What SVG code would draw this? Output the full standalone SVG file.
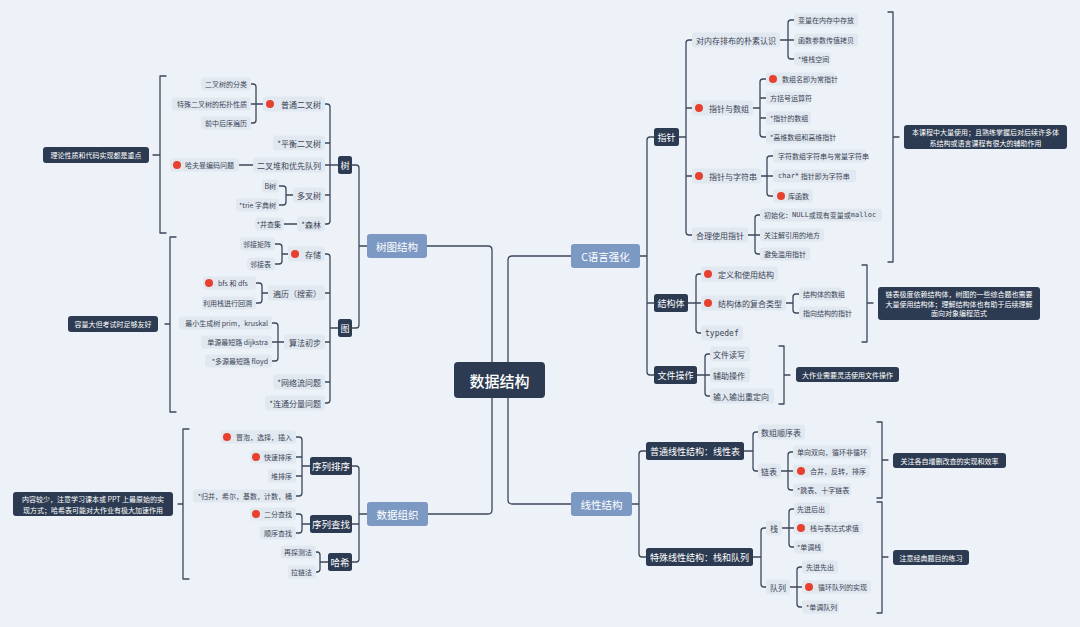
<svg xmlns="http://www.w3.org/2000/svg" width="1080" height="627" viewBox="0 0 1080 627">
<style>
.lb{fill:#E2E8F0}
.t{font-family:"Noto Sans CJK SC","Noto Sans",sans-serif;fill:#3A4556;dominant-baseline:central}
.e{text-anchor:end}
.mid{text-anchor:middle}
.s7{font-size:7px}
.s8{font-size:8px}
.s9{font-size:9px}
.w{fill:#fff}
.m{font-family:"DejaVu Sans Mono","Liberation Mono",monospace}
.dk{fill:#2C3B51}
.l1{fill:#7C99C3}
.dot{fill:#E8402F}
.c{fill:none;stroke:#3B475A;stroke-width:1.3;stroke-linecap:round;stroke-linejoin:round}
</style>
<rect width="1080" height="627" fill="#EDF2F8"/>
<g id="connectors" class="c">
<path d="M492,362V250Q492,246 488,246H427"/>
<path d="M508,362V260Q508,256 512,256H571"/>
<path d="M492,398V510Q492,514 488,514H428"/>
<path d="M508,398V500Q508,504 512,504H571"/>
<path d="M352,165H356Q359,165 359,168V325Q359,328 356,328H352M359,246H367"/>
<path d="M325,104H327Q330,104 330,107V221Q330,224 327,224H325M325,143H330M325,165H338M325,195H330"/>
<path d="M251,84H253Q256,84 256,87V120Q256,123 253,123H251M251,104H263"/>
<path d="M239,165H253"/>
<path d="M279,186H283Q286,186 286,189V202Q286,205 283,205H279M286,195H293"/>
<path d="M284,224H297"/>
<path d="M166,76H160V233H166M160,155H153"/>
<path d="M325,254H327Q330,254 330,257V400Q330,403 327,403H325M325,293H330M325,342H330M325,382H330M330,328H338"/>
<path d="M275,244H279Q282,244 282,247V261Q282,264 279,264H275M282,254H288"/>
<path d="M256,283H259Q262,283 262,286V300Q262,303 259,303H256M262,293H268"/>
<path d="M272,323H275Q278,323 278,326V358Q278,361 275,361H272M272,342H284"/>
<path d="M176,237H170V412H176M170,324H165"/>
<path d="M352,466H356Q359,466 359,469V559Q359,562 356,562H352M352,524H359M359,514H367"/>
<path d="M296,437H299Q302,437 302,440V493Q302,496 299,496H296M296,457H302M296,476H302M302,466H310"/>
<path d="M296,514H299Q302,514 302,517V530Q302,533 299,533H296M302,524H310"/>
<path d="M316,552H317Q320,552 320,555V569Q320,572 317,572H316M320,562H328"/>
<path d="M189,429H183V579H189M183,504H178"/>
<path d="M654,137H650Q647,137 647,140V372Q647,375 650,375H654M647,303H654M640,256H647"/>
<path d="M692,40H689Q686,40 686,43V232Q686,235 689,235H692M686,108H692M686,176H692M679,137H686"/>
<path d="M794,20H791Q788,20 788,23V56Q788,59 791,59H794M780,40H794"/>
<path d="M766,79H763Q760,79 760,82V134Q760,137 763,137H766M760,98H766M760,118H766M753,108H760"/>
<path d="M773,156H770Q767,156 767,159V193Q767,196 770,196H773M761,176H773"/>
<path d="M760,215H758Q755,215 755,218V251Q755,254 758,254H760M748,235H760"/>
<path d="M888,12H893V262H888M893,137H899"/>
<path d="M701,274H699Q696,274 696,277V330Q696,333 699,333H701M688,303H701"/>
<path d="M799,294H796Q793,294 793,297V310Q793,313 796,313H799M786,303H793"/>
<path d="M862,265H867V342H862M867,303H873"/>
<path d="M710,354H708Q705,354 705,357V393Q705,396 708,396H710M697,375H710"/>
<path d="M779,346H784V404H779M784,375H790"/>
<path d="M646,451H642Q639,451 639,454V554Q639,557 642,557H646M632,504H639"/>
<path d="M758,432H756Q753,432 753,435V468Q753,471 756,471H758M744,451H753"/>
<path d="M793,452H791Q788,452 788,455V487Q788,490 791,490H793M781,471H793"/>
<path d="M766,528H764Q761,528 761,531V584Q761,587 764,587H766M753,557H761"/>
<path d="M794,509H792Q789,509 789,512V544Q789,547 792,547H794M782,528H794"/>
<path d="M802,567H800Q797,567 797,570V604Q797,607 800,607H802M790,587H802"/>
<path d="M877,422H882V498H877M882,460H888"/>
<path d="M877,502H882V613H877M882,557H888"/>
</g>
<g id="root"><rect class="dk" x="454" y="362" width="91" height="36" rx="4"/><text class="t w mid" x="499.5" y="380" font-size="15" font-weight="500">数据结构</text></g>
<g id="n-treegraph"><rect class="l1" x="367" y="234" width="60" height="24" rx="3"/><text class="t w mid" x="397" y="246" font-size="10.5">树图结构</text></g>
<g id="n-c"><rect class="l1" x="571" y="244" width="69" height="24" rx="3"/><text class="t w mid" x="605.5" y="256" font-size="10.5">C语言强化</text></g>
<g id="n-linear"><rect class="l1" x="571" y="492" width="61" height="24" rx="3"/><text class="t w mid" x="601.5" y="504" font-size="10.5">线性结构</text></g>
<g id="n-org"><rect class="l1" x="367" y="502" width="61" height="24" rx="3"/><text class="t w mid" x="397.5" y="514" font-size="10.5">数据组织</text></g>
<g id="n-tree"><rect class="dk" x="338" y="156" width="14" height="18" rx="2.5"/><text class="t w mid s9" x="345" y="165">树</text></g>
<g id="n-classify"><rect class="lb" x="201" y="77.5" width="50" height="13" rx="3"/><text class="t e s7" x="247" y="84">二叉树的分类</text></g>
<g id="n-special"><rect class="lb" x="172" y="97.5" width="79" height="13" rx="3"/><text class="t e s7" x="247" y="104">特殊二叉树的拓扑性质</text></g>
<g id="n-order"><rect class="lb" x="201" y="116.5" width="50" height="13" rx="3"/><text class="t e s7" x="247" y="123">前中后序遍历</text></g>
<g id="n-bt"><rect class="lb" x="263" y="96.5" width="62" height="15" rx="3"/><circle class="dot" cx="270" cy="104" r="4"/><text class="t e s8" x="321" y="104">普通二叉树</text></g>
<g id="n-avl"><rect class="lb" x="273" y="135.5" width="52" height="15" rx="3"/><text class="t e s8" x="321" y="143">*平衡二叉树</text></g>
<g id="n-heap"><rect class="lb" x="253" y="157.5" width="72" height="15" rx="3"/><text class="t e s8" x="321" y="165">二叉堆和优先队列</text></g>
<g id="n-huff"><rect class="lb" x="170" y="158.5" width="69" height="13" rx="3"/><circle class="dot" cx="177" cy="165" r="4"/><text class="t s7" x="185" y="165">哈夫曼编码问题</text></g>
<g id="n-multi"><rect class="lb" x="293" y="187.5" width="32" height="15" rx="3"/><text class="t e s8" x="321" y="195">多叉树</text></g>
<g id="n-b"><rect class="lb" x="262" y="179.5" width="17" height="13" rx="3"/><text class="t e s7" x="276" y="186">B树</text></g>
<g id="n-trie"><rect class="lb" x="236" y="198.5" width="43" height="13" rx="3"/><text class="t e s7" x="276" y="205">*trie 字典树</text></g>
<g id="n-forest"><rect class="lb" x="297" y="216.5" width="28" height="15" rx="3"/><text class="t e s8" x="321" y="224">*森林</text></g>
<g id="n-dsu"><rect class="lb" x="255" y="217.5" width="29" height="13" rx="3"/><text class="t e s7" x="281" y="224">*并查集</text></g>
<g id="note-tree"><rect class="dk" x="43" y="147" width="106" height="16" rx="3"/><text class="t w mid s7" x="96" y="155">理论性质和代码实现都是重点</text></g>
<g id="n-graph"><rect class="dk" x="338" y="319" width="14" height="18" rx="2.5"/><text class="t w mid s9" x="345" y="328">图</text></g>
<g id="n-store"><rect class="lb" x="288" y="246.5" width="37" height="15" rx="3"/><circle class="dot" cx="295" cy="254" r="4"/><text class="t e s8" x="321" y="254">存储</text></g>
<g id="n-matrix"><rect class="lb" x="240" y="237.5" width="35" height="13" rx="3"/><text class="t e s7" x="271" y="244">邻接矩阵</text></g>
<g id="n-adj"><rect class="lb" x="247" y="257.5" width="28" height="13" rx="3"/><text class="t e s7" x="271" y="264">邻接表</text></g>
<g id="n-trav"><rect class="lb" x="268" y="285.5" width="57" height="15" rx="3"/><text class="t e s8" x="321" y="293">遍历（搜索）</text></g>
<g id="n-bfs"><rect class="lb" x="203" y="276.5" width="53" height="13" rx="3"/><circle class="dot" cx="209" cy="283" r="4"/><text class="t s7" x="218" y="283">bfs 和 dfs</text></g>
<g id="n-back"><rect class="lb" x="202" y="296.5" width="54" height="13" rx="3"/><text class="t e s7" x="252" y="303">利用栈进行回溯</text></g>
<g id="n-algo"><rect class="lb" x="284" y="334.5" width="41" height="15" rx="3"/><text class="t e s8" x="321" y="342">算法初步</text></g>
<g id="n-mst"><rect class="lb" x="179" y="316.5" width="93" height="13" rx="3"/><text class="t e s7" x="268" y="323">最小生成树 prim，kruskal</text></g>
<g id="n-sssp"><rect class="lb" x="201" y="335.5" width="71" height="13" rx="3"/><text class="t e s7" x="268" y="342">单源最短路 dijkstra</text></g>
<g id="n-apsp"><rect class="lb" x="205" y="354.5" width="67" height="13" rx="3"/><text class="t e s7" x="268" y="361">*多源最短路 floyd</text></g>
<g id="n-flow"><rect class="lb" x="273" y="374.5" width="52" height="15" rx="3"/><text class="t e s8" x="321" y="382">*网络流问题</text></g>
<g id="n-scc"><rect class="lb" x="265" y="395.5" width="60" height="15" rx="3"/><text class="t e s8" x="321" y="403">*连通分量问题</text></g>
<g id="note-graph"><rect class="dk" x="68" y="316" width="90" height="16" rx="3"/><text class="t w mid s7" x="113" y="324">容量大但考试时足够友好</text></g>
<g id="n-sort"><rect class="dk" x="310" y="457" width="42" height="18" rx="2.5"/><text class="t w mid" x="331" y="466" font-size="9.5">序列排序</text></g>
<g id="n-search"><rect class="dk" x="310" y="515" width="42" height="18" rx="2.5"/><text class="t w mid" x="331" y="524" font-size="9.5">序列查找</text></g>
<g id="n-hash"><rect class="dk" x="328" y="553" width="24" height="18" rx="2.5"/><text class="t w mid" x="340" y="562" font-size="9.5">哈希</text></g>
<g id="n-bubble"><rect class="lb" x="221" y="430.5" width="75" height="13" rx="3"/><circle class="dot" cx="227" cy="437" r="4"/><text class="t e s7" x="292" y="437">冒泡，选择，插入</text></g>
<g id="n-quick"><rect class="lb" x="250" y="450.5" width="46" height="13" rx="3"/><circle class="dot" cx="256" cy="457" r="4"/><text class="t e s7" x="292" y="457">快速排序</text></g>
<g id="n-heapsort"><rect class="lb" x="268" y="469.5" width="28" height="13" rx="3"/><text class="t e s7" x="292" y="476">堆排序</text></g>
<g id="n-others"><rect class="lb" x="193" y="489.5" width="103" height="13" rx="3"/><text class="t e s7" x="292" y="496">*归并，希尔，基数，计数，桶</text></g>
<g id="n-binary"><rect class="lb" x="250" y="507.5" width="46" height="13" rx="3"/><circle class="dot" cx="256" cy="514" r="4"/><text class="t e s7" x="292" y="514">二分查找</text></g>
<g id="n-seq"><rect class="lb" x="260" y="526.5" width="36" height="13" rx="3"/><text class="t e s7" x="292" y="533">顺序查找</text></g>
<g id="n-probe"><rect class="lb" x="281" y="545.5" width="35" height="13" rx="3"/><text class="t e s7" x="312" y="552">再探测法</text></g>
<g id="n-chain"><rect class="lb" x="288" y="565.5" width="28" height="13" rx="3"/><text class="t e s7" x="312" y="572">拉链法</text></g>
<g id="note-org"><rect class="dk" x="13" y="492" width="160" height="24" rx="3"/><text class="t w mid s7" x="93" y="499">内容较少，注意学习课本或 PPT 上最原始的实</text><text class="t w mid s7" x="93" y="509.5">现方式；哈希表可能对大作业有极大加速作用</text></g>
<g id="n-ptr"><rect class="dk" x="654" y="128" width="25" height="18" rx="2.5"/><text class="t w mid s9" x="666.5" y="137">指针</text></g>
<g id="n-struct"><rect class="dk" x="654" y="294" width="34" height="18" rx="2.5"/><text class="t w mid s9" x="671" y="303">结构体</text></g>
<g id="n-file"><rect class="dk" x="654" y="366" width="43" height="18" rx="2.5"/><text class="t w mid s9" x="675.5" y="375">文件操作</text></g>
<g id="n-mem"><rect class="lb" x="692" y="32.5" width="88" height="15" rx="3"/><text class="t s8" x="696" y="40">对内存排布的朴素认识</text></g>
<g id="n-var"><rect class="lb" x="794" y="13.5" width="64" height="13" rx="3"/><text class="t s7" x="798" y="20">变量在内存中存放</text></g>
<g id="n-func"><rect class="lb" x="794" y="33.5" width="64" height="13" rx="3"/><text class="t s7" x="798" y="40">函数参数传值拷贝</text></g>
<g id="n-stackspace"><rect class="lb" x="794" y="52.5" width="37" height="13" rx="3"/><text class="t s7" x="798" y="59">*堆栈空间</text></g>
<g id="n-ptrarr"><rect class="lb" x="692" y="100.5" width="61" height="15" rx="3"/><circle class="dot" cx="699" cy="108" r="4"/><text class="t s8" x="709" y="108">指针与数组</text></g>
<g id="n-arrname"><rect class="lb" x="766" y="72.5" width="69" height="13" rx="3"/><circle class="dot" cx="773" cy="79" r="4"/><text class="t s7" x="782" y="79">数组名即为常指针</text></g>
<g id="n-bracketop"><rect class="lb" x="766" y="91.5" width="43" height="13" rx="3"/><text class="t s7" x="770" y="98">方括号运算符</text></g>
<g id="n-ptrarray"><rect class="lb" x="766" y="111.5" width="45" height="13" rx="3"/><text class="t s7" x="770" y="118">*指针的数组</text></g>
<g id="n-highdim"><rect class="lb" x="766" y="130.5" width="67" height="13" rx="3"/><text class="t s7" x="770" y="137">*高维数组和高维指针</text></g>
<g id="n-ptrstr"><rect class="lb" x="692" y="168.5" width="69" height="15" rx="3"/><circle class="dot" cx="699" cy="176" r="4"/><text class="t s8" x="709" y="176">指针与字符串</text></g>
<g id="n-chararr"><rect class="lb" x="773" y="149.5" width="93" height="13" rx="3"/><text class="t s7" x="778" y="156">字符数组字符串与常量字符串</text></g>
<g id="n-charp"><rect class="lb" x="773" y="169.5" width="83" height="13" rx="3"/><text class="t s7" x="778" y="176"><tspan class="m">char*</tspan> 指针即为字符串</text></g>
<g id="n-lib"><rect class="lb" x="773" y="189.5" width="40" height="13" rx="3"/><circle class="dot" cx="781" cy="196" r="4"/><text class="t s7" x="788" y="196">库函数</text></g>
<g id="n-proper"><rect class="lb" x="692" y="227.5" width="56" height="15" rx="3"/><text class="t s8" x="696" y="235">合理使用指针</text></g>
<g id="n-init"><rect class="lb" x="760" y="208.5" width="122" height="13" rx="3"/><text class="t s7" x="764" y="215">初始化：<tspan class="m">NULL</tspan>或现有变量或<tspan class="m">malloc</tspan></text></g>
<g id="n-deref"><rect class="lb" x="760" y="228.5" width="64" height="13" rx="3"/><text class="t s7" x="764" y="235">关注解引用的地方</text></g>
<g id="n-abuse"><rect class="lb" x="760" y="247.5" width="50" height="13" rx="3"/><text class="t s7" x="764" y="254">避免滥用指针</text></g>
<g id="note-ptr"><rect class="dk" x="904" y="125" width="163" height="24" rx="3"/><text class="t w mid s7" x="985.5" y="132">本课程中大量使用；且熟练掌握后对后续许多体</text><text class="t w mid s7" x="985.5" y="142.5">系结构或语言课程有很大的辅助作用</text></g>
<g id="n-def"><rect class="lb" x="701" y="266.5" width="77" height="15" rx="3"/><circle class="dot" cx="708" cy="274" r="4"/><text class="t s8" x="718" y="274">定义和使用结构</text></g>
<g id="n-compound"><rect class="lb" x="701" y="295.5" width="85" height="15" rx="3"/><circle class="dot" cx="708" cy="303" r="4"/><text class="t s8" x="718" y="303">结构体的复合类型</text></g>
<g id="n-typedef"><rect class="lb" x="701" y="325.5" width="42" height="15" rx="3"/><text class="t m s8" x="705" y="333">typedef</text></g>
<g id="n-structarr"><rect class="lb" x="799" y="287.5" width="43" height="13" rx="3"/><text class="t s7" x="803" y="294">结构体的数组</text></g>
<g id="n-structptr"><rect class="lb" x="799" y="306.5" width="50" height="13" rx="3"/><text class="t s7" x="803" y="313">指向结构的指针</text></g>
<g id="note-struct"><rect class="dk" x="878" y="287" width="162" height="33" rx="3"/><text class="t w mid s7" x="959" y="294">链表极度依赖结构体，树图的一些综合题也需要</text><text class="t w mid s7" x="959" y="303.5">大量使用结构体；理解结构体也有助于后续理解</text><text class="t w mid s7" x="959" y="313">面向对象编程范式</text></g>
<g id="n-rw"><rect class="lb" x="710" y="346.5" width="40" height="15" rx="3"/><text class="t s8" x="713" y="354">文件读写</text></g>
<g id="n-aux"><rect class="lb" x="710" y="367.5" width="40" height="15" rx="3"/><text class="t s8" x="713" y="375">辅助操作</text></g>
<g id="n-redirect"><rect class="lb" x="710" y="388.5" width="64" height="15" rx="3"/><text class="t s8" x="713" y="396">输入输出重定向</text></g>
<g id="note-file"><rect class="dk" x="796" y="367" width="103" height="15" rx="3"/><text class="t w mid s7" x="847.5" y="374.5">大作业需要灵活使用文件操作</text></g>
<g id="n-normal"><rect class="dk" x="646" y="442" width="98" height="18" rx="2.5"/><text class="t w mid s9" x="695" y="451">普通线性结构：线性表</text></g>
<g id="n-speciallin"><rect class="dk" x="646" y="548" width="107" height="18" rx="2.5"/><text class="t w mid s9" x="699.5" y="557">特殊线性结构：栈和队列</text></g>
<g id="n-array"><rect class="lb" x="758" y="424.5" width="47" height="15" rx="3"/><text class="t s8" x="761" y="432">数组顺序表</text></g>
<g id="n-list"><rect class="lb" x="758" y="463.5" width="23" height="15" rx="3"/><text class="t s8" x="761" y="471">链表</text></g>
<g id="n-dir"><rect class="lb" x="793" y="445.5" width="78" height="13" rx="3"/><text class="t s7" x="797" y="452">单向双向，循环非循环</text></g>
<g id="n-merge"><rect class="lb" x="793" y="464.5" width="77" height="13" rx="3"/><circle class="dot" cx="801" cy="471" r="4"/><text class="t s7" x="810" y="471">合并，反转，排序</text></g>
<g id="n-skip"><rect class="lb" x="793" y="483.5" width="58" height="13" rx="3"/><text class="t s7" x="797" y="490">*跳表、十字链表</text></g>
<g id="n-stack"><rect class="lb" x="766" y="520.5" width="16" height="15" rx="3"/><text class="t s8" x="770" y="528">栈</text></g>
<g id="n-queue"><rect class="lb" x="766" y="579.5" width="24" height="15" rx="3"/><text class="t s8" x="770" y="587">队列</text></g>
<g id="n-lifo"><rect class="lb" x="794" y="502.5" width="36" height="13" rx="3"/><text class="t s7" x="797" y="509">先进后出</text></g>
<g id="n-expr"><rect class="lb" x="794" y="521.5" width="69" height="13" rx="3"/><circle class="dot" cx="801" cy="528" r="4"/><text class="t s7" x="810" y="528">栈与表达式求值</text></g>
<g id="n-monostack"><rect class="lb" x="794" y="540.5" width="30" height="13" rx="3"/><text class="t s7" x="797" y="547">*单调栈</text></g>
<g id="n-fifo"><rect class="lb" x="802" y="560.5" width="36" height="13" rx="3"/><text class="t s7" x="806" y="567">先进先出</text></g>
<g id="n-circ"><rect class="lb" x="802" y="580.5" width="69" height="13" rx="3"/><circle class="dot" cx="809" cy="587" r="4"/><text class="t s7" x="818" y="587">循环队列的实现</text></g>
<g id="n-monoq"><rect class="lb" x="802" y="600.5" width="37" height="13" rx="3"/><text class="t s7" x="806" y="607">*单调队列</text></g>
<g id="note-linear"><rect class="dk" x="893" y="453" width="113" height="15" rx="3"/><text class="t w mid s7" x="949.5" y="460.5">关注各自增删改查的实现和效率</text></g>
<g id="note-stackq"><rect class="dk" x="893" y="550" width="76" height="15" rx="3"/><text class="t w mid s7" x="931" y="557.5">注意经典题目的练习</text></g>
</svg>
